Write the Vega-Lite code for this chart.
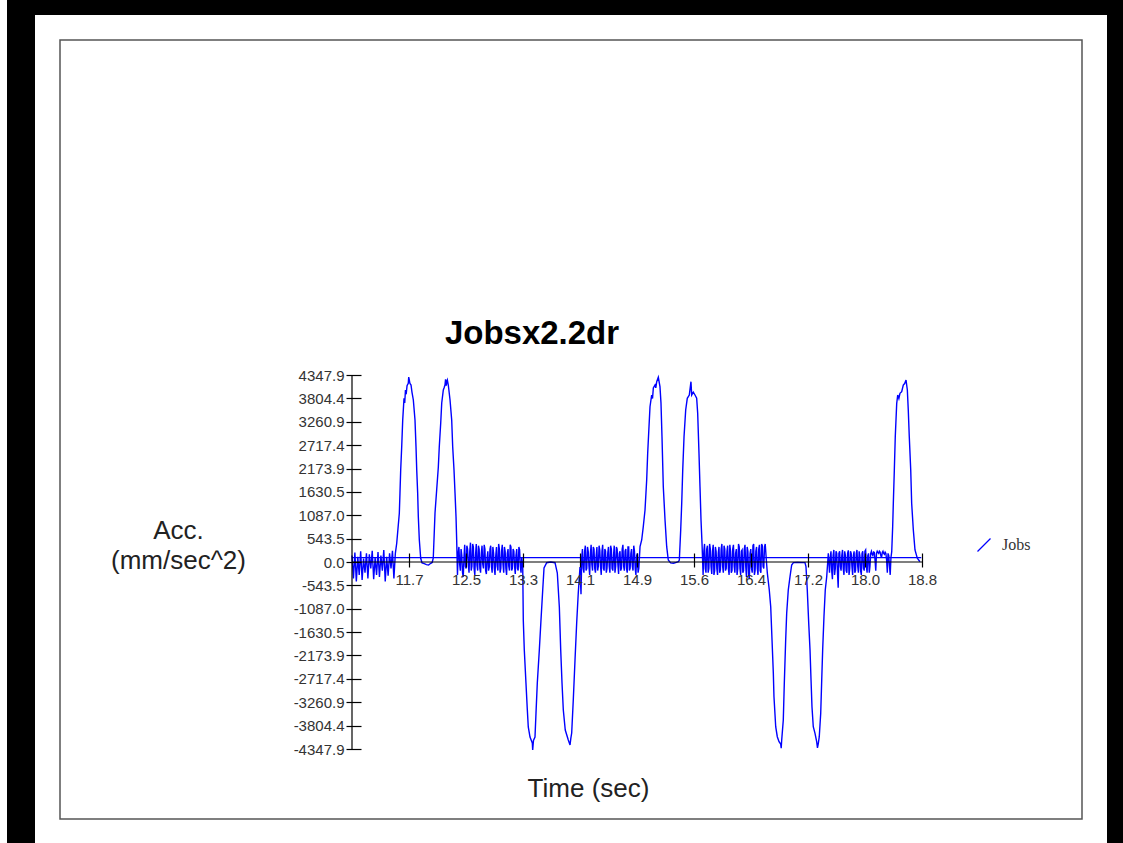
{
"$schema":"https://vega.github.io/schema/vega-lite/v6.json",
"width":1022,"height":779,
"autosize":"none",
"padding":{"left":60,"top":40,"right":41,"bottom":24},
"background":"white",
"config":{"view":{"stroke":null},"font":"Liberation Sans"},
"title":{"text":"Jobsx2.2dr","font":"Liberation Sans","fontSize":33,"fontWeight":"bold","color":"black","anchor":"start","frame":"group","align":"center","baseline":"middle","offset":0,"dx":472,"dy":380},
"layer":[
{"data":{"values":[{"f":1}]},"mark":{"type":"rect","filled":false,"stroke":"black","strokeWidth":106},"encoding":{}},
{"data":{"values":[{"f":1}]},"mark":{"type":"rect","fill":"white","stroke":"white","strokeWidth":50},"encoding":{}},
{"data":{"values":[{"f":1}]},"mark":{"type":"rect","filled":false,"stroke":"#555555","strokeWidth":1.5},"encoding":{}},
{"data":{"values":[
{"t":10.91,"a":150},{"t":10.93,"a":-380},{"t":10.95,"a":220},{"t":10.97,"a":-450},{"t":10.99,"a":120},{"t":11.01,"a":-300},{"t":11.03,"a":250},{"t":11.05,"a":-420},{"t":11.07,"a":80},{"t":11.09,"a":-250},{"t":11.11,"a":200},{"t":11.13,"a":-380},{"t":11.15,"a":180},{"t":11.17,"a":-150},{"t":11.19,"a":260},{"t":11.21,"a":-400},{"t":11.23,"a":100},{"t":11.25,"a":-300},{"t":11.27,"a":230},{"t":11.29,"a":-350},{"t":11.31,"a":150},{"t":11.33,"a":-200},{"t":11.35,"a":280},{"t":11.37,"a":-450},{"t":11.39,"a":120},{"t":11.41,"a":-320},{"t":11.43,"a":200},{"t":11.45,"a":-150},{"t":11.47,"a":260},{"t":11.49,"a":-380},{"t":11.51,"a":200},
{"t":11.529,"a":435},{"t":11.565,"a":1132},{"t":11.574,"a":1597},{"t":11.584,"a":2139},{"t":11.598,"a":2681},{"t":11.612,"a":3302},{"t":11.63,"a":3806},{"t":11.64,"a":3700},{"t":11.65,"a":4000},{"t":11.66,"a":3900},{"t":11.672,"a":4100},{"t":11.689,"a":4155},{"t":11.695,"a":4300},{"t":11.703,"a":4232},{"t":11.712,"a":4150},{"t":11.727,"a":4115},{"t":11.74,"a":3950},{"t":11.759,"a":3767},{"t":11.782,"a":3302},{"t":11.796,"a":2681},{"t":11.806,"a":2139},{"t":11.819,"a":1597},{"t":11.828,"a":1053},{"t":11.842,"a":512},{"t":11.861,"a":86},
{"t":11.88,"a":-20},{"t":11.91,"a":-40},{"t":11.94,"a":-60},{"t":11.97,"a":-70},{"t":12.0,"a":-30},{"t":12.02,"a":-10},
{"t":12.035,"a":93},{"t":12.059,"a":1139},{"t":12.082,"a":1674},{"t":12.105,"a":2209},{"t":12.118,"a":2674},{"t":12.138,"a":3232},{"t":12.152,"a":3697},{"t":12.174,"a":3999},{"t":12.185,"a":4050},{"t":12.197,"a":4115},{"t":12.205,"a":4250},{"t":12.215,"a":4100},{"t":12.221,"a":4185},{"t":12.23,"a":4230},{"t":12.243,"a":4115},{"t":12.267,"a":3767},{"t":12.29,"a":3302},{"t":12.304,"a":2674},{"t":12.322,"a":2139},{"t":12.336,"a":1604},{"t":12.35,"a":1046},{"t":12.359,"a":512},
{"t":12.37,"a":-300},{"t":12.38,"a":200},{"t":12.39,"a":350},{"t":12.4,"a":-50},{"t":12.41,"a":-200},{"t":12.42,"a":300},{"t":12.43,"a":150},{"t":12.44,"a":-250},{"t":12.45,"a":-350},{"t":12.46,"a":100},{"t":12.47,"a":400},{"t":12.48,"a":-100},{"t":12.49,"a":-150},{"t":12.5,"a":380},{"t":12.51,"a":300},{"t":12.52,"a":-50},{"t":12.53,"a":-250},{"t":12.54,"a":250},{"t":12.55,"a":450},{"t":12.56,"a":-200},{"t":12.57,"a":-100},{"t":12.58,"a":420},{"t":12.59,"a":350},{"t":12.6,"a":-150},{"t":12.61,"a":-300},{"t":12.62,"a":150},{"t":12.63,"a":420},{"t":12.64,"a":-80},{"t":12.65,"a":-200},{"t":12.66,"a":380},{"t":12.67,"a":300},{"t":12.68,"a":-150},{"t":12.69,"a":-250},{"t":12.7,"a":200},{"t":12.71,"a":380},{"t":12.72,"a":-50},{"t":12.73,"a":-150},{"t":12.74,"a":400},{"t":12.75,"a":300},{"t":12.76,"a":-200},{"t":12.77,"a":-280},{"t":12.78,"a":100},{"t":12.79,"a":250},{"t":12.8,"a":-200},{"t":12.81,"a":-120},{"t":12.82,"a":300},{"t":12.83,"a":380},{"t":12.84,"a":-100},{"t":12.85,"a":-250},{"t":12.86,"a":350},{"t":12.87,"a":200},{"t":12.88,"a":-150},{"t":12.89,"a":-300},{"t":12.9,"a":150},{"t":12.91,"a":350},{"t":12.92,"a":-100},{"t":12.93,"a":-200},{"t":12.94,"a":420},{"t":12.95,"a":300},{"t":12.96,"a":-250},{"t":12.97,"a":-150},{"t":12.98,"a":250},{"t":12.99,"a":400},{"t":13.0,"a":-50},{"t":13.01,"a":-250},{"t":13.02,"a":350},{"t":13.03,"a":250},{"t":13.04,"a":-150},{"t":13.05,"a":-300},{"t":13.06,"a":200},{"t":13.07,"a":300},{"t":13.08,"a":-100},{"t":13.09,"a":-200},{"t":13.1,"a":400},{"t":13.11,"a":350},{"t":13.12,"a":-200},{"t":13.13,"a":-150},{"t":13.14,"a":300},{"t":13.15,"a":250},{"t":13.16,"a":-100},{"t":13.17,"a":-280},{"t":13.18,"a":150},{"t":13.19,"a":300},{"t":13.2,"a":-150},{"t":13.21,"a":-200},{"t":13.22,"a":350},{"t":13.23,"a":280},{"t":13.24,"a":-100},{"t":13.25,"a":-250},{"t":13.26,"a":100},
{"t":13.273,"a":-70},{"t":13.281,"a":-1349},{"t":13.295,"a":-2046},{"t":13.318,"a":-2813},{"t":13.337,"a":-3441},{"t":13.35,"a":-3836},{"t":13.374,"a":-4069},{"t":13.406,"a":-4208},{"t":13.411,"a":-4371},{"t":13.422,"a":-4150},{"t":13.443,"a":-4069},{"t":13.457,"a":-3511},{"t":13.475,"a":-2813},{"t":13.503,"a":-2046},{"t":13.526,"a":-1349},{"t":13.55,"a":-651},{"t":13.568,"a":-140},{"t":13.605,"a":-16},{"t":13.66,"a":0},{"t":13.72,"a":-16},
{"t":13.752,"a":-256},{"t":13.78,"a":-1046},{"t":13.799,"a":-2046},{"t":13.817,"a":-2813},{"t":13.835,"a":-3441},{"t":13.862,"a":-3906},{"t":13.904,"a":-4139},{"t":13.928,"a":-4255},{"t":13.939,"a":-4100},{"t":13.951,"a":-3976},{"t":13.973,"a":-3209},{"t":13.997,"a":-2279},{"t":14.02,"a":-1418},{"t":14.042,"a":-721},{"t":14.066,"a":-116},
{"t":14.08,"a":-750},{"t":14.09,"a":100},{"t":14.1,"a":300},{"t":14.11,"a":-150},{"t":14.12,"a":-250},{"t":14.13,"a":250},{"t":14.14,"a":380},{"t":14.15,"a":-200},{"t":14.16,"a":-150},{"t":14.17,"a":350},{"t":14.18,"a":250},{"t":14.19,"a":-100},{"t":14.2,"a":-300},{"t":14.21,"a":200},{"t":14.22,"a":400},{"t":14.23,"a":-50},{"t":14.24,"a":-200},{"t":14.25,"a":350},{"t":14.26,"a":300},{"t":14.27,"a":-150},{"t":14.28,"a":-250},{"t":14.29,"a":150},{"t":14.3,"a":350},{"t":14.31,"a":-200},{"t":14.32,"a":-100},{"t":14.33,"a":380},{"t":14.34,"a":280},{"t":14.35,"a":-100},{"t":14.36,"a":-300},{"t":14.37,"a":250},{"t":14.38,"a":400},{"t":14.39,"a":-150},{"t":14.4,"a":-200},{"t":14.41,"a":300},{"t":14.42,"a":250},{"t":14.43,"a":-250},{"t":14.44,"a":-150},{"t":14.45,"a":200},{"t":14.46,"a":350},{"t":14.47,"a":-100},{"t":14.48,"a":-250},{"t":14.49,"a":380},{"t":14.5,"a":300},{"t":14.51,"a":-150},{"t":14.52,"a":-200},{"t":14.53,"a":150},{"t":14.54,"a":380},{"t":14.55,"a":-250},{"t":14.56,"a":-100},{"t":14.57,"a":350},{"t":14.58,"a":300},{"t":14.59,"a":-50},{"t":14.6,"a":-280},{"t":14.61,"a":200},{"t":14.62,"a":250},{"t":14.63,"a":-200},{"t":14.64,"a":-150},{"t":14.65,"a":300},{"t":14.66,"a":400},{"t":14.67,"a":-100},{"t":14.68,"a":-200},{"t":14.69,"a":250},{"t":14.7,"a":300},{"t":14.71,"a":-150},{"t":14.72,"a":-250},{"t":14.73,"a":350},{"t":14.74,"a":350},{"t":14.75,"a":-200},{"t":14.76,"a":-150},{"t":14.77,"a":200},{"t":14.78,"a":300},{"t":14.79,"a":-100},{"t":14.8,"a":-200},{"t":14.81,"a":380},{"t":14.82,"a":250},{"t":14.83,"a":-150},{"t":14.84,"a":-300},{"t":14.85,"a":150},{"t":14.86,"a":200},{"t":14.87,"a":-250},{"t":14.88,"a":-150},
{"t":14.897,"a":356},{"t":14.92,"a":512},{"t":14.942,"a":821},{"t":14.966,"a":1209},{"t":14.989,"a":1907},{"t":15.003,"a":2534},{"t":15.021,"a":3146},{"t":15.035,"a":3611},{"t":15.058,"a":3883},{"t":15.07,"a":3800},{"t":15.081,"a":4046},{"t":15.104,"a":4115},{"t":15.115,"a":4050},{"t":15.128,"a":4192},{"t":15.15,"a":4294},{"t":15.173,"a":4076},{"t":15.187,"a":3697},{"t":15.201,"a":2913},{"t":15.219,"a":1751},{"t":15.243,"a":977},{"t":15.266,"a":356},{"t":15.288,"a":47},
{"t":15.32,"a":-20},{"t":15.36,"a":-30},{"t":15.4,"a":-10},{"t":15.427,"a":5},
{"t":15.441,"a":47},{"t":15.46,"a":744},{"t":15.474,"a":1365},{"t":15.488,"a":2139},{"t":15.506,"a":2913},{"t":15.529,"a":3534},{"t":15.551,"a":3806},{"t":15.579,"a":3883},{"t":15.602,"a":4192},{"t":15.612,"a":3883},{"t":15.634,"a":3950},{"t":15.658,"a":3883},{"t":15.681,"a":3806},{"t":15.695,"a":3457},{"t":15.713,"a":2527},{"t":15.727,"a":1751},{"t":15.741,"a":977},{"t":15.755,"a":435},
{"t":15.77,"a":-300},{"t":15.78,"a":250},{"t":15.79,"a":420},{"t":15.8,"a":-150},{"t":15.81,"a":-250},{"t":15.82,"a":300},{"t":15.83,"a":380},{"t":15.84,"a":-250},{"t":15.85,"a":-150},{"t":15.86,"a":420},{"t":15.87,"a":300},{"t":15.88,"a":-100},{"t":15.89,"a":-280},{"t":15.9,"a":250},{"t":15.91,"a":400},{"t":15.92,"a":-300},{"t":15.93,"a":-200},{"t":15.94,"a":350},{"t":15.95,"a":250},{"t":15.96,"a":-150},{"t":15.97,"a":-300},{"t":15.98,"a":200},{"t":15.99,"a":350},{"t":16.0,"a":-250},{"t":16.01,"a":-180},{"t":16.02,"a":300},{"t":16.03,"a":420},{"t":16.04,"a":-100},{"t":16.05,"a":-250},{"t":16.06,"a":380},{"t":16.07,"a":300},{"t":16.08,"a":-200},{"t":16.09,"a":-150},{"t":16.1,"a":250},{"t":16.11,"a":380},{"t":16.12,"a":-150},{"t":16.13,"a":-300},{"t":16.14,"a":400},{"t":16.15,"a":250},{"t":16.16,"a":-250},{"t":16.17,"a":-200},{"t":16.18,"a":300},{"t":16.19,"a":400},{"t":16.2,"a":-100},{"t":16.21,"a":-250},{"t":16.22,"a":200},{"t":16.23,"a":300},{"t":16.24,"a":-300},{"t":16.25,"a":-150},{"t":16.26,"a":420},{"t":16.27,"a":350},{"t":16.28,"a":-150},{"t":16.29,"a":-300},{"t":16.3,"a":250},{"t":16.31,"a":280},{"t":16.32,"a":-250},{"t":16.33,"a":-200},{"t":16.34,"a":300},{"t":16.35,"a":400},{"t":16.36,"a":-100},{"t":16.37,"a":-350},{"t":16.38,"a":350},{"t":16.39,"a":250},{"t":16.4,"a":-300},{"t":16.41,"a":-400},{"t":16.42,"a":200},{"t":16.43,"a":300},{"t":16.44,"a":-150},{"t":16.45,"a":-250},{"t":16.46,"a":380},{"t":16.47,"a":420},{"t":16.48,"a":-300},{"t":16.49,"a":-200},{"t":16.5,"a":250},{"t":16.51,"a":350},{"t":16.52,"a":-150},{"t":16.53,"a":-300},{"t":16.54,"a":300},{"t":16.55,"a":400},{"t":16.56,"a":-200},{"t":16.57,"a":-250},{"t":16.58,"a":420},{"t":16.59,"a":380},{"t":16.6,"a":-100},{"t":16.61,"a":-150},{"t":16.62,"a":350},{"t":16.63,"a":420},{"t":16.645,"a":50},
{"t":16.659,"a":-256},{"t":16.686,"a":-651},{"t":16.706,"a":-1039},{"t":16.724,"a":-1814},{"t":16.742,"a":-2581},{"t":16.751,"a":-3132},{"t":16.775,"a":-3829},{"t":16.797,"a":-4062},{"t":16.821,"a":-4178},{"t":16.844,"a":-4232},{"t":16.851,"a":-4330},{"t":16.858,"a":-4139},{"t":16.88,"a":-3674},{"t":16.894,"a":-2820},{"t":16.913,"a":-1814},{"t":16.927,"a":-1193},{"t":16.949,"a":-651},{"t":16.973,"a":-342},{"t":16.996,"a":-70},{"t":17.02,"a":-15},{"t":17.08,"a":-10},{"t":17.14,"a":-15},{"t":17.18,"a":-15},
{"t":17.194,"a":-109},{"t":17.212,"a":-651},{"t":17.232,"a":-1425},{"t":17.25,"a":-2046},{"t":17.264,"a":-2744},{"t":17.277,"a":-3364},{"t":17.295,"a":-3829},{"t":17.319,"a":-3983},{"t":17.342,"a":-4178},{"t":17.353,"a":-4320},{"t":17.365,"a":-4215},{"t":17.378,"a":-4062},{"t":17.398,"a":-3518},{"t":17.412,"a":-2744},{"t":17.425,"a":-2046},{"t":17.443,"a":-1272},{"t":17.461,"a":-651},{"t":17.481,"a":-342},{"t":17.503,"a":202},
{"t":17.52,"a":-250},{"t":17.53,"a":100},{"t":17.54,"a":250},{"t":17.55,"a":-200},{"t":17.56,"a":-400},{"t":17.57,"a":150},{"t":17.58,"a":280},{"t":17.59,"a":-300},{"t":17.6,"a":-150},{"t":17.61,"a":250},{"t":17.62,"a":200},{"t":17.63,"a":-250},{"t":17.64,"a":-600},{"t":17.65,"a":200},{"t":17.66,"a":250},{"t":17.67,"a":-100},{"t":17.68,"a":-200},{"t":17.69,"a":150},{"t":17.7,"a":280},{"t":17.71,"a":-150},{"t":17.72,"a":-300},{"t":17.73,"a":250},{"t":17.74,"a":150},{"t":17.75,"a":-200},{"t":17.76,"a":-250},{"t":17.77,"a":200},{"t":17.78,"a":270},{"t":17.79,"a":-300},{"t":17.8,"a":-150},{"t":17.81,"a":250},{"t":17.82,"a":200},{"t":17.83,"a":-100},{"t":17.84,"a":-300},{"t":17.85,"a":150},{"t":17.86,"a":250},{"t":17.87,"a":-250},{"t":17.88,"a":-200},{"t":17.89,"a":200},{"t":17.9,"a":280},{"t":17.91,"a":-100},{"t":17.92,"a":-250},{"t":17.93,"a":250},{"t":17.94,"a":150},{"t":17.95,"a":-200},{"t":17.96,"a":-300},{"t":17.97,"a":200},{"t":17.98,"a":250},{"t":17.99,"a":-150},{"t":18.0,"a":-200},{"t":18.01,"a":250},{"t":18.02,"a":280},{"t":18.03,"a":-100},{"t":18.04,"a":-250},{"t":18.05,"a":150},{"t":18.06,"a":200},{"t":18.07,"a":-250},{"t":18.08,"a":-100},{"t":18.09,"a":200},{"t":18.1,"a":250},{"t":18.11,"a":180},{"t":18.12,"a":150},{"t":18.13,"a":230},{"t":18.14,"a":220},{"t":18.15,"a":50},{"t":18.16,"a":-200},{"t":18.17,"a":200},{"t":18.18,"a":250},{"t":18.19,"a":220},{"t":18.2,"a":200},{"t":18.21,"a":250},{"t":18.22,"a":230},{"t":18.23,"a":150},{"t":18.24,"a":100},{"t":18.25,"a":220},{"t":18.26,"a":250},{"t":18.27,"a":200},{"t":18.28,"a":180},{"t":18.29,"a":230},{"t":18.3,"a":200},{"t":18.31,"a":50},{"t":18.32,"a":-250},{"t":18.33,"a":200},{"t":18.34,"a":150},{"t":18.35,"a":-100},{"t":18.36,"a":-300},{"t":18.37,"a":100},
{"t":18.381,"a":240},{"t":18.394,"a":821},{"t":18.403,"a":1365},{"t":18.417,"a":2139},{"t":18.43,"a":2913},{"t":18.45,"a":3690},{"t":18.464,"a":3883},{"t":18.48,"a":3800},{"t":18.495,"a":3922},{"t":18.519,"a":3960},{"t":18.541,"a":4115},{"t":18.56,"a":4150},{"t":18.579,"a":4232},{"t":18.597,"a":3999},{"t":18.61,"a":3534},{"t":18.624,"a":2913},{"t":18.644,"a":2139},{"t":18.657,"a":1365},{"t":18.68,"a":744},{"t":18.703,"a":279},{"t":18.735,"a":86},{"t":18.772,"a":7}
]},
"mark":{"type":"line","strokeWidth":1.4},
"encoding":{
"x":{"field":"t","type":"quantitative","scale":{"domain":[10.91,18.8],"range":[292,862],"nice":false,"zero":false},
"axis":{"zindex":2,"values":[11.699,12.488,13.277,14.066,14.856,15.644,16.433,17.222,18.011,18.8],"format":".1f","offset":-266,"domain":false,"grid":false,"tickSize":14,"tickColor":"black","tickWidth":1.2,"labelFont":"Liberation Sans","labelFontSize":15,"labelColor":"#333333","labelPadding":5,"labelFlush":false,"labelOverlap":false,"title":"Time (sec)","titleFont":"Liberation Sans","titleFontSize":26,"titleFontWeight":"normal","titleColor":"#222222","titleX":528,"titleY":235,"titleAlign":"center","titleBaseline":"middle"}},
"y":{"field":"a","type":"quantitative","scale":{"domain":[-4347.9,4347.9],"range":[709,335],"nice":false,"zero":false},
"axis":{"zindex":2,"values":[-4347.9,-3804.4,-3260.9,-2717.4,-2173.9,-1630.5,-1087.0,-543.5,0,543.5,1087.0,1630.5,2173.9,2717.4,3260.9,3804.4,4347.9],"labelExpr":"(datum.value < 0 ? '-' : '') + format(abs(datum.value), '.1f')","offset":-301,"domain":false,"grid":false,"tickSize":15,"tickColor":"black","tickWidth":1.2,"labelFont":"Liberation Sans","labelFontSize":15,"labelColor":"#333333","labelPadding":2,"labelOverlap":false,"title":["Acc.","(mm/sec^2)"],"titleAngle":0,"titleFont":"Liberation Sans","titleFontSize":26,"titleFontWeight":"normal","titleColor":"#222222","titleX":-183,"titleY":490,"titleAlign":"center","titleBaseline":"middle","titleLineHeight":30}},
"color":{"datum":"Jobs","type":"nominal","scale":{"range":["#0000ff"]},
"legend":{"zindex":2,"orient":"none","legendX":916,"legendY":497,"title":null,"padding":0,"symbolType":"M-1,1L1,-1","symbolSize":169,"symbolStrokeWidth":1.2,"symbolStrokeColor":"#0000ff","symbolFillColor":"transparent","labelFont":"Liberation Serif","labelFontSize":16,"labelColor":"#333333","labelOffset":10}}
}},
{"data":{"values":[{"f":1}]},"mark":{"type":"rule","color":"#0000ff","strokeWidth":1.2},"encoding":{"y":{"datum":100,"type":"quantitative"},"x":{"datum":10.91,"type":"quantitative"},"x2":{"datum":18.79}}},
{"data":{"values":[{"f":1}]},"mark":{"type":"rule","color":"black","strokeWidth":1.2},"encoding":{"y":{"datum":0,"type":"quantitative"},"x":{"datum":10.91,"type":"quantitative"},"x2":{"datum":18.8}}},
{"data":{"values":[{"f":1}]},"mark":{"type":"rule","color":"black","strokeWidth":1.2},"encoding":{"x":{"datum":10.91,"type":"quantitative"},"y":{"datum":-4347.9,"type":"quantitative"},"y2":{"datum":4347.9}}}
]
}
